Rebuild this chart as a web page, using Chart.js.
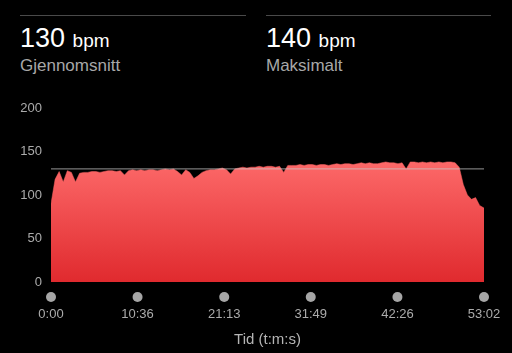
<!DOCTYPE html>
<html>
<head>
<meta charset="utf-8">
<script src="https://cdn.jsdelivr.net/npm/chart.js@4/dist/chart.umd.min.js"></script>
<style>
    html, body { margin: 0; padding: 0; background: #000; width: 512px; height: 353px; overflow: hidden; font-family: "Liberation Sans", Arial, sans-serif; }
    .stat { position: absolute; top: 15px; border-top: 1px solid #4a4a4a; }
    .stat .value { color: #fff; font-size: 27px; margin-top: 7px; line-height: 30px; }
    .stat .value span { font-size: 19px; }
    .stat .label { color: #a8a8a8; font-size: 17px; line-height: 20px; margin-top: 0; }
    #chartWrap { position: absolute; left: 0; top: 95px; width: 512px; height: 258px; }
</style>
</head>
<body>
<div class="stat" style="left:20px;width:226px">
    <div class="value">130 <span>bpm</span></div>
    <div class="label">Gjennomsnitt</div>
</div>
<div class="stat" style="left:266px;width:225px">
    <div class="value">140 <span>bpm</span></div>
    <div class="label">Maksimalt</div>
</div>
<div id="chartWrap"><canvas id="hrChart" width="512" height="258"></canvas></div>
<script>
// heart rate, one sample every 30 s, last sample at 53:02
const sampleSeconds = 30;
const heartRate = [
    90, 118, 127, 115, 128, 126, 115, 125, 126, 126,
    127, 127, 126, 127, 128, 128, 127, 128, 123, 128,
    129, 128, 129, 128, 129, 129, 128, 129, 130, 129,
    130, 127, 123, 129, 126, 119, 122, 126, 128, 129,
    129, 130, 131, 129, 124, 130, 131, 132, 131, 132,
    132, 133, 132, 133, 133, 132, 133, 126, 134, 134,
    134, 135, 134, 135, 135, 134, 135, 135, 134, 135,
    136, 135, 136, 136, 135, 136, 137, 136, 137, 136,
    136, 137, 138, 137, 137, 136, 137, 130, 138, 138,
    137, 138, 137, 138, 137, 138, 137, 138, 138, 137,
    132, 112, 100, 95, 97, 88, 85
];
const averageBpm = 130;
const totalSeconds = 3182;
const tickSeconds = [0, 636, 1273, 1909, 2546, 3182];
const tickLabels = ['0:00', '10:36', '21:13', '31:49', '42:26', '53:02'];
const yTicks = [0, 50, 100, 150, 200];

const points = heartRate.map((v, i) => ({ x: Math.min(i * sampleSeconds, totalSeconds), y: v }));
points[points.length - 1].x = totalSeconds;

const redFill = ctx => {
    const area = ctx.chart.chartArea;
    if (!area) return '#f05050';
    const g = ctx.chart.ctx.createLinearGradient(0, area.top + 55, 0, area.bottom);
    g.addColorStop(0, '#fc6868');
    g.addColorStop(1, '#e02a2e');
    return g;
};

const tickDots = {
    id: 'tickDots',
    afterDraw(chart) {
        const { ctx, chartArea, scales } = chart;
        ctx.save();
        ctx.fillStyle = '#a6a6a6';
        tickSeconds.forEach(t => {
            ctx.beginPath();
            ctx.arc(scales.x.getPixelForValue(t), chartArea.bottom + 15, 5, 0, Math.PI * 2);
            ctx.fill();
        });
        ctx.restore();
    }
};

new Chart(document.getElementById('hrChart'), {
    type: 'line',
    data: {
        datasets: [
            { data: [{ x: 0, y: averageBpm }, { x: totalSeconds, y: averageBpm }], borderColor: 'rgba(200,200,200,0.75)', borderWidth: 1, pointRadius: 0, fill: false, order: 0 },
            { data: points, backgroundColor: redFill, borderColor: '#f46060', borderWidth: 0.5, pointRadius: 0, tension: 0, fill: 'origin', order: 1 }
        ]
    },
    options: {
        responsive: false,
        animation: false,
        events: [],
        layout: { padding: { left: 0, right: 28, top: 13, bottom: 0 } },
        plugins: { legend: { display: false }, tooltip: { enabled: false } },
        scales: {
            x: {
                type: 'linear', min: 0, max: totalSeconds,
                afterBuildTicks: s => { s.ticks = tickSeconds.map(v => ({ value: v })); },
                afterFit: s => { s.height = 71; s.paddingLeft = 0; s.paddingRight = 0; },
                grid: { display: false, drawTicks: false },
                border: { display: false },
                ticks: {
                    color: '#ababab', font: { size: 13, family: 'Liberation Sans' }, padding: 25, maxRotation: 0,
                    callback: v => tickLabels[tickSeconds.indexOf(v)]
                },
                title: { display: true, text: 'Tid (t:m:s)', color: '#b5b5b5', font: { size: 15, family: 'Liberation Sans' }, padding: { top: 0, bottom: 4 } }
            },
            y: {
                min: 0, max: 200,
                afterBuildTicks: s => { s.ticks = yTicks.map(v => ({ value: v })); },
                afterFit: s => { s.width = 51; s.paddingTop = 0; s.paddingBottom = 0; },
                grid: { display: false, drawTicks: false },
                border: { display: false },
                ticks: { color: '#ababab', font: { size: 13, family: 'Liberation Sans' }, padding: 9 }
            }
        }
    },
    plugins: [tickDots]
});
</script>
</body>
</html>
